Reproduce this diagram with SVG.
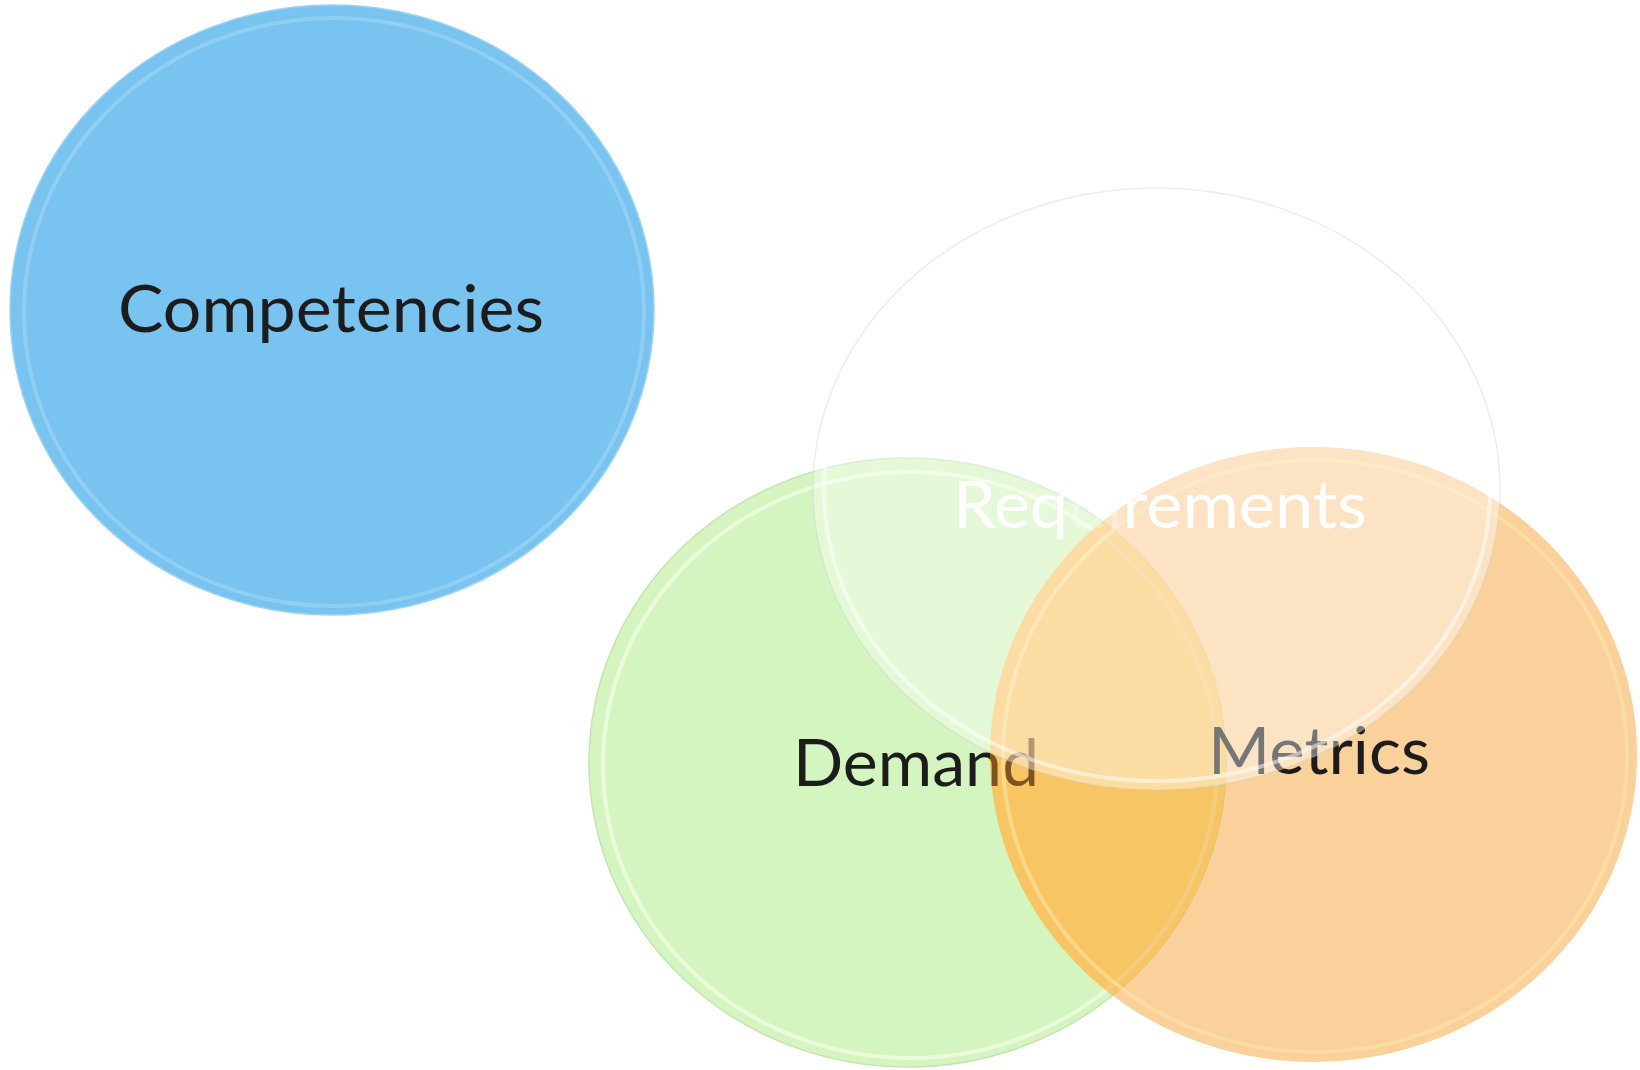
<svg xmlns="http://www.w3.org/2000/svg" width="1640" height="1070" viewBox="0 0 1640 1070">
  <defs>
    <style>
      .lbl { font-family: Lato, "Open Sans", "Liberation Sans", sans-serif; font-size: 66px; }
      .dark { fill: #1c1c1c; }
      .rim { fill: none; stroke-width: 4; }
    </style>
    <clipPath id="clipOrange">
      <ellipse cx="1313.5" cy="754.5" rx="323.5" ry="307.5"/>
    </clipPath>
  </defs>
  <rect x="0" y="0" width="1640" height="1070" fill="#ffffff"/>

  <g id="node-competencies">
    <ellipse cx="332" cy="310" rx="322" ry="305" fill="#78C3EF" stroke="#9ed3f2" stroke-width="1.5"/>
    <ellipse class="rim" cx="334" cy="312" rx="310" ry="294" stroke="#a8dcf7" stroke-opacity="0.5"/>
    <text class="lbl dark" x="331" y="332" text-anchor="middle" textLength="426" lengthAdjust="spacingAndGlyphs">Competencies</text>
  </g>

  <g id="node-demand">
    <ellipse cx="907.5" cy="762.5" rx="318.5" ry="304.5" fill="#D4F5C0" stroke="#c4e4b2" stroke-width="1.5"/>
    <ellipse cx="907.5" cy="762.5" rx="318.5" ry="304.5" fill="#FBEC9B" clip-path="url(#clipOrange)"/>
    <ellipse class="rim" cx="910" cy="765" rx="307" ry="293" stroke="#f2fde6" stroke-opacity="0.7"/>
    <text class="lbl dark" x="916" y="786" text-anchor="middle" textLength="246" lengthAdjust="spacingAndGlyphs">Demand</text>
  </g>

  <g id="node-metrics">
    <ellipse cx="1313.5" cy="754.5" rx="323.5" ry="307.5" fill="#F49721" fill-opacity="0.45"/>
    <ellipse class="rim" cx="1315" cy="756" rx="312" ry="296" stroke="#fbe6a8" stroke-opacity="0.55"/>
    <text class="lbl dark" x="1319" y="774" text-anchor="middle" textLength="222" lengthAdjust="spacingAndGlyphs">Metrics</text>
  </g>

  <g id="node-requirements">
    <ellipse cx="1156.5" cy="489" rx="343.5" ry="301" fill="#ffffff" fill-opacity="0.4" stroke="#c9cfbf" stroke-opacity="0.35" stroke-width="1.5"/>
    <ellipse class="rim" cx="1157" cy="490" rx="333" ry="291" stroke="#ffffff" stroke-opacity="0.5"/>
    <text class="lbl" x="1160" y="528" text-anchor="middle" fill="#ffffff" textLength="414" lengthAdjust="spacingAndGlyphs">Req<tspan fill-opacity="0.3">ui</tspan>rements</text>
  </g>

  <g id="connectors"></g>
</svg>
